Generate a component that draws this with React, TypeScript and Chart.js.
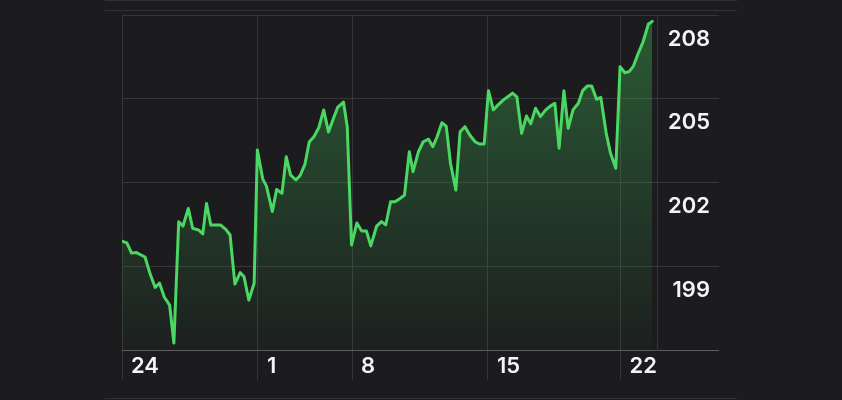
import React, { useEffect, useRef } from 'react';
import { Chart, registerables } from 'chart.js';

Chart.register(...registerables);

// Session time (arbitrary trading-time units, 0..100 across the visible period)
const sessionTimes = [
  0, 0.9, 1.8, 2.7, 4.3, 5.2, 6.2, 7.0, 7.9, 8.9,
  9.7, 10.6, 11.4, 12.4, 13.2, 14.3, 15.1, 15.8, 16.6, 18.4,
  19.4, 20.2, 21.1, 22.1, 22.8, 23.7, 24.7, 25.3, 26.3, 27.0,
  28.1, 28.9, 29.9, 30.7, 31.5, 32.5, 33.3, 34.2, 35.0, 35.9,
  36.8, 37.7, 38.6, 39.5, 40.3, 41.4, 42.1, 42.9, 43.9, 44.8,
  45.7, 46.5, 47.6, 48.5, 49.3, 50.2, 51.0, 52.0, 52.8, 53.7,
  54.4, 55.4, 56.3, 57.3, 58.1, 58.9, 59.8, 60.6, 61.4, 62.4,
  63.2, 64.1, 65.0, 66.0, 66.8, 67.7, 68.5, 69.4, 70.3, 71.3,
  72.3, 73.0, 73.8, 74.7, 75.6, 76.4, 77.3, 78.2, 79.2, 80.1,
  80.9, 81.7, 82.6, 83.4, 84.3, 85.3, 86.1, 87.0, 87.8, 88.7,
  89.5, 90.5, 91.3, 92.3, 93.1, 94.0, 94.8, 95.6, 96.5, 97.4,
  98.4, 99.1,
];

const prices = [
  199.90, 199.84, 199.47, 199.49, 199.33, 198.76, 198.24, 198.40, 197.90, 197.61,
  196.25, 200.59, 200.44, 201.07, 200.36, 200.30, 200.16, 201.25, 200.48, 200.48,
  200.32, 200.12, 198.36, 198.77, 198.63, 197.79, 198.39, 203.16, 202.13, 201.87,
  200.96, 201.75, 201.61, 202.92, 202.27, 202.09, 202.25, 202.66, 203.45, 203.65,
  203.97, 204.60, 203.81, 204.28, 204.69, 204.88, 204.00, 199.76, 200.55, 200.26,
  200.26, 199.73, 200.44, 200.60, 200.48, 201.31, 201.31, 201.43, 201.55, 203.10,
  202.39, 203.10, 203.46, 203.55, 203.28, 203.64, 204.14, 204.02, 202.69, 201.73,
  203.82, 204.00, 203.70, 203.46, 203.38, 203.38, 205.29, 204.60, 204.78, 204.96,
  205.10, 205.20, 205.07, 203.76, 204.38, 204.10, 204.66, 204.36, 204.60, 204.74,
  204.84, 203.23, 205.29, 203.94, 204.60, 204.84, 205.29, 205.46, 205.46, 204.98,
  205.05, 203.77, 203.06, 202.51, 206.15, 205.93, 205.97, 206.17, 206.63, 207.04,
  207.68, 207.77,
];

const dateTickPositions = [0, 25.4, 43.0, 68.4, 93.2];
const dateTickLabels = ['24', '1', '8', '15', '22'];
const priceGridValues = [196, 199, 202, 205, 208];
const priceTickLabels = [208, 205, 202, 199];
const timeMin = 0;
const timeMax = 100;
const priceMin = 196;
const priceMax = 208;

const BG = '#1c1c1e';
const GRID = '#353638';
const AXIS = '#5c5d60';
const LINE = '#4ad862';
const TEXT = '#f4f4f6';

const framePlugin = {
  id: 'frame',
  beforeDraw(chart: any) {
    const { ctx, width, height, chartArea } = chart;
    ctx.save();
    ctx.fillStyle = BG;
    ctx.fillRect(0, 0, width, height);
    ctx.strokeStyle = '#323234';
    ctx.lineWidth = 1;
    const x0 = chartArea.left - 17;
    const x1 = chartArea.right + 80;
    [0.5, 10.5, height - 1.5].forEach((y) => {
      ctx.beginPath();
      ctx.moveTo(x0, y);
      ctx.lineTo(x1, y);
      ctx.stroke();
    });
    ctx.restore();
  },
};

export default function App() {
  const canvasRef = useRef<HTMLCanvasElement | null>(null);

  useEffect(() => {
    if (!canvasRef.current) return;
    const points = sessionTimes.map((t, i) => ({ x: t, y: prices[i] }));
    const font = { family: 'Inter, "Noto Sans", sans-serif', size: 22, weight: 600 as any };

    const chart = new Chart(canvasRef.current, {
      type: 'line',
      data: {
        datasets: [
          {
            data: points,
            borderColor: LINE,
            borderWidth: 3,
            pointRadius: 0,
            tension: 0,
            borderJoinStyle: 'round',
            borderCapStyle: 'round',
            fill: 'start',
            backgroundColor: (ctx: any) => {
              const area = ctx.chart.chartArea;
              if (!area) return 'rgba(71,214,96,0.2)';
              const g = ctx.chart.ctx.createLinearGradient(0, area.top, 0, area.bottom);
              g.addColorStop(0, 'rgba(71,214,96,0.34)');
              g.addColorStop(1, 'rgba(71,214,96,0.02)');
              return g;
            },
          },
        ],
      },
      options: {
        responsive: false,
        animation: false,
        events: [],
        layout: { padding: { left: 122, top: 15, right: 132, bottom: 0 } },
        plugins: { legend: { display: false }, tooltip: { enabled: false } },
        scales: {
          x: {
            type: 'linear',
            min: timeMin,
            max: timeMax,
            afterBuildTicks: (axis: any) => {
              axis.ticks = dateTickPositions.map((v) => ({ value: v }));
            },
            afterFit: (axis: any) => {
              axis.height = 50;
            },
            grid: { color: GRID, tickLength: 30, drawTicks: true, lineWidth: 1 },
            border: { display: true, color: AXIS },
            ticks: {
              autoSkip: false,
              maxRotation: 0,
              align: 'start',
              labelOffset: 9,
              padding: -27,
              color: TEXT,
              font,
              callback: (_v: any, i: number) => dateTickLabels[i],
            },
          },
          y: {
            position: 'right',
            min: priceMin,
            max: priceMax,
            afterBuildTicks: (axis: any) => {
              axis.ticks = priceGridValues.map((v) => ({ value: v }));
            },
            afterFit: (axis: any) => {
              axis.width = 53;
            },
            grid: {
              color: (ctx: any) => (ctx.tick && ctx.tick.value === priceMin ? AXIS : GRID),
              tickLength: 62,
              drawTicks: true,
            },
            border: { display: true, color: GRID },
            ticks: {
              crossAlign: 'far',
              padding: 0,
              labelOffset: 24,
              color: TEXT,
              font,
              callback: (v: any) => (priceTickLabels.includes(v) ? String(v) : ''),
            },
          },
        },
      },
      plugins: [framePlugin],
    } as any);

    return () => chart.destroy();
  }, []);

  return (
    <div style={{ position: 'fixed', left: 0, top: 0, width: 842, height: 400, background: BG }}>
      <canvas ref={canvasRef} width={842} height={400} style={{ display: 'block' }} />
    </div>
  );
}
